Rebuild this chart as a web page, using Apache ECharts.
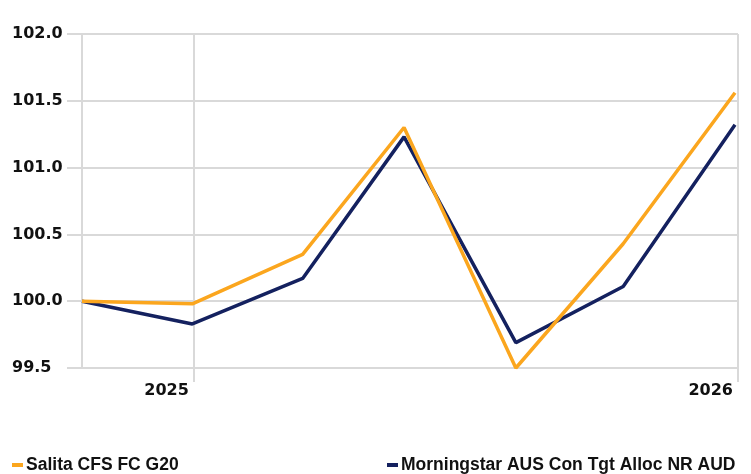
<!DOCTYPE html>
<html><head><meta charset="utf-8">
<script src="https://cdn.jsdelivr.net/npm/echarts@6/dist/echarts.min.js"></script>
<style>html,body{margin:0;padding:0;background:#fff}#c{width:751px;height:474px}</style>
</head><body><div id="c"></div>
<script>
var dates = ['2024-10-18','2024-12-31','2025-03-15','2025-05-22','2025-08-05','2025-10-16','2025-12-30'];
var salita = [100.0, 99.98, 100.35, 101.30, 99.50, 100.43, 101.56];
var morningstar = [100.0, 99.83, 100.17, 101.23, 99.69, 100.11, 101.32];
var seriesNames = ['Salita CFS FC G20', 'Morningstar AUS Con Tgt Alloc NR AUD'];
var yTicks = {min: 99.5, max: 102.0, step: 0.5};

var gridColor = '#d9d9d9';
var labelFont = 'DejaVu Sans';
var legendFont = 'Liberation Sans';
function pairs(v){ return dates.map(function(d,i){ return [d, v[i]]; }); }

var chart = echarts.init(document.getElementById('c'), null, {renderer:'canvas'});
chart.setOption({
  animation: false,
  backgroundColor: '#fff',
  grid: {left: 82, right: 13, top: 34, bottom: 106, containLabel: false},
  xAxis: {
    type: 'time',
    min: dates[0],
    max: '2026-01-01',
    minInterval: 365*24*3600*1000,
    axisLine: {show: true, onZero: false, lineStyle: {color: gridColor, width: 2}},
    axisTick: {show: true, interval: 0, length: 14, lineStyle: {color: gridColor, width: 2}},
    splitLine: {show: true, lineStyle: {color: gridColor, width: 2}},
    axisLabel: {
      formatter: '{yyyy}', align: 'right', margin: 15, padding: [0,5,0,0],
      color: '#111', fontFamily: labelFont, fontWeight: 'bold', fontSize: 16,
      showMinLabel: false, showMaxLabel: true
    }
  },
  yAxis: {
    type: 'value',
    min: yTicks.min, max: yTicks.max, interval: yTicks.step,
    axisLine: {show: true, lineStyle: {color: gridColor, width: 2}},
    axisTick: {show: true, length: 15, lineStyle: {color: gridColor, width: 2}},
    splitLine: {show: true, lineStyle: {color: gridColor, width: 2}},
    axisLabel: {
      formatter: function(v){ return v.toFixed(1); },
      align: 'left', margin: 70,
      color: '#111', fontFamily: labelFont, fontWeight: 'bold', fontSize: 16
    }
  },
  legend: [
    {data: [seriesNames[0]], left: 7, top: 451, icon: 'rect', itemWidth: 11, itemHeight: 4, itemGap: 4,
     textStyle: {fontFamily: legendFont, fontWeight: 'bold', fontSize: 17.5, color: '#111', padding: [0,0,0,-2]}},
    {data: [seriesNames[1]], left: 382, top: 451, icon: 'rect', itemWidth: 11, itemHeight: 4, itemGap: 4,
     textStyle: {fontFamily: legendFont, fontWeight: 'bold', fontSize: 17.5, color: '#111', padding: [0,0,0,-2]}}
  ],
  series: [
    {name: seriesNames[0], type: 'line', data: pairs(salita), symbol: 'none',
     lineStyle: {color: '#FBA61E', width: 3.5}, itemStyle: {color: '#FBA61E'}, z: 3},
    {name: seriesNames[1], type: 'line', data: pairs(morningstar), symbol: 'none',
     lineStyle: {color: '#14215F', width: 3.5}, itemStyle: {color: '#14215F'}, z: 2}
  ]
});
</script></body></html>
